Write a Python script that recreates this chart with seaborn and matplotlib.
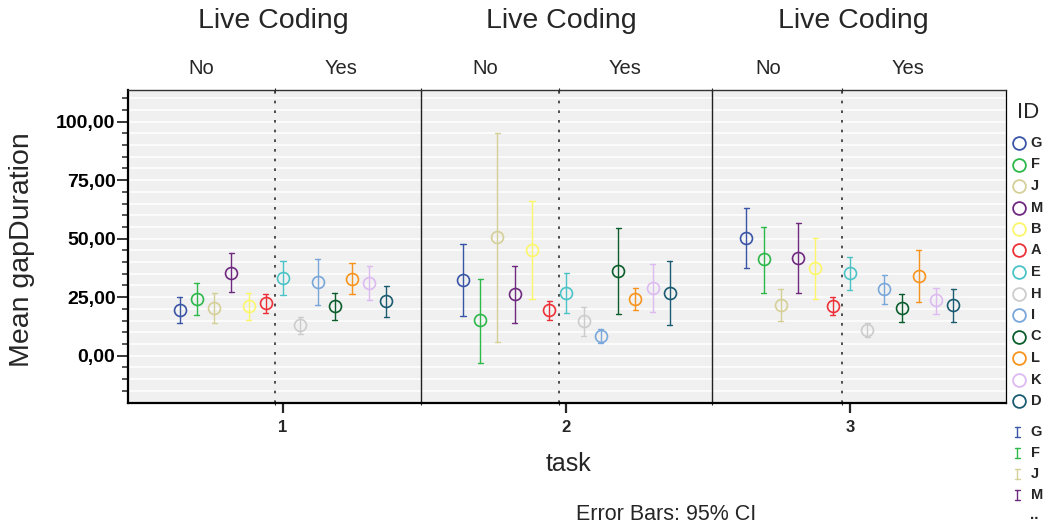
import numpy as np
import pandas as pd
import matplotlib
matplotlib.use("Agg")
import matplotlib.pyplot as plt
import matplotlib.transforms as mtransforms
from matplotlib.lines import Line2D
from matplotlib.ticker import FuncFormatter
import seaborn as sns

# ---- data -----------------------------------------------------------------
tasks = [1, 2, 3]
ids = ["G", "F", "J", "M", "B", "A", "E", "H", "I", "C", "L", "K", "D"]
live_coding_groups = ["No", "Yes"]
id_colors = ["#3B55A6", "#2DB84A", "#D5CF98", "#6F2A80", "#FBF66A", "#EE3138",
             "#4CC3C6", "#CCCCCC", "#7AA7DA", "#0B5E2C", "#F7941E", "#DDBAF0",
             "#1B5C72"]

# mean gapDuration per ID (order of ids) with 95% CI bounds
mean_task1 = [19.5, 24.2, 20.5, 35.5, 21.2, 22.4, 33.3, 13.0, 31.5, 21.1, 32.9, 31.2, 23.2]
low_task1 = [13.8, 17.4, 14.0, 27.2, 15.4, 18.4, 25.9, 9.3, 21.7, 15.3, 26.2, 23.9, 16.4]
high_task1 = [25.0, 31.1, 26.9, 44.0, 26.9, 26.2, 40.5, 16.7, 41.2, 26.7, 39.6, 38.5, 29.8]

mean_task2 = [32.4, 15.1, 50.7, 26.5, 45.3, 19.5, 26.9, 14.8, 8.4, 36.2, 24.2, 28.8, 26.9]
low_task2 = [17.0, -3.0, 5.9, 14.1, 24.4, 15.4, 18.2, 8.5, 5.3, 17.9, 19.4, 18.5, 13.1]
high_task2 = [47.7, 32.8, 95.3, 38.5, 66.1, 23.5, 35.5, 20.7, 11.4, 54.4, 28.9, 39.1, 40.6]

mean_task3 = [50.3, 41.2, 21.5, 41.6, 37.3, 21.4, 35.3, 11.1, 28.4, 20.2, 34.2, 23.7, 21.7]
low_task3 = [37.5, 26.9, 14.7, 26.7, 24.2, 17.5, 28.2, 8.1, 22.1, 14.3, 23.1, 17.9, 14.5]
high_task3 = [63.0, 55.1, 28.4, 56.7, 50.2, 25.1, 42.2, 14.0, 34.6, 26.4, 45.3, 29.1, 28.5]

y_major = [0, 25, 50, 75, 100]

# long table: each (task, ID) cell holds lower bound, mean and upper bound;
# the median gives the mean and the 100% interval spans the CI
rows = []
for task, means, lows, highs in zip(tasks,
                                    [mean_task1, mean_task2, mean_task3],
                                    [low_task1, low_task2, low_task3],
                                    [high_task1, high_task2, high_task3]):
    for pid, m, lo, hi in zip(ids, means, lows, highs):
        for v in (lo, m, hi):
            rows.append({"task": task, "ID": pid, "gapDuration": v})
df = pd.DataFrame(rows)

# ---- style ----------------------------------------------------------------
sns.set_style("ticks")
plt.rcParams["font.family"] = ["Liberation Sans", "DejaVu Sans"]

W, H = 1044, 531
fig = plt.figure(figsize=(W / 100, H / 100), dpi=100)
ax = fig.add_axes([128 / W, 1 - 403 / H, 878 / W, 313 / H])
ax.set_facecolor("#F0F0F0")

sns.pointplot(data=df, x="task", y="gapDuration", hue="ID",
              order=tasks, hue_order=ids, palette=id_colors,
              estimator="median", errorbar=("pi", 100),
              dodge=0.73, markers="o", linestyles="none",
              capsize=0.018, err_kws={"linewidth": 1.0},
              markersize=8.6, markeredgewidth=1.2,
              legend=False, ax=ax)

for ln in ax.lines:
    ln.set_markerfacecolor("none")
    ln.set_zorder(3)

ax.set_xlim(-0.547, 2.551)
ax.set_ylim(-20.2, 113.5)

# y axis
ax.set_yticks(y_major)
ax.set_yticks(np.arange(-15, 111, 5), minor=True)
ax.yaxis.set_major_formatter(FuncFormatter(lambda v, p: f"{v:.2f}".replace(".", ",")))
ax.tick_params(axis="y", which="major", length=8, width=1.1, pad=1,
               labelsize=14, colors="black")
ax.tick_params(axis="y", which="minor", length=4.3, width=1.1)
for lab in ax.get_yticklabels():
    lab.set_fontweight("bold")
ax.grid(axis="y", which="both", color="white", linewidth=1.1)
ax.set_axisbelow(True)

# x axis
ax.set_xticks(range(len(tasks)))
ax.set_xticklabels([str(t) for t in tasks], fontsize=12, fontweight="bold")
ax.tick_params(axis="x", which="major", length=7.5, width=1.6, pad=5)
divider_x = [0.486, 1.512]
split_x = [k - 0.027 for k in range(len(tasks))]
ax.set_xticks(split_x + divider_x, minor=True)
ax.tick_params(axis="x", which="minor", length=3, width=0.8,
               direction="inout", top=True)
ax.set_xlabel("")
ax.set_ylabel("")

for x in divider_x:
    ax.axvline(x, color="#222222", linewidth=1.0, zorder=2)
for x in split_x:
    ax.axvline(x, color="#333333", linewidth=1.2, linestyle=(0, (1.6, 4.2)), zorder=2)

for side in ("left", "bottom"):
    ax.spines[side].set_linewidth(1.6)
    ax.spines[side].set_color("black")
ax.spines["top"].set_linewidth(1.0)
ax.spines["top"].set_color("#333333")
ax.spines["right"].set_linewidth(0.9)
ax.spines["right"].set_color("black")
ax.spines["top"].set_visible(True)
ax.spines["right"].set_visible(True)

# panel headers
blend = mtransforms.blended_transform_factory(ax.transData, fig.transFigure)
header_x = [-0.036, 0.981, 2.011]
for k, hx in enumerate(header_x):
    ax.text(hx, 1 - 21 / H, "Live Coding", transform=blend, ha="center",
            va="center", fontsize=20.5)
    ax.text(k - 0.288, 1 - 68 / H, live_coding_groups[0], transform=blend,
            ha="center", va="center", fontsize=14.5)
    ax.text(k + 0.205, 1 - 68 / H, live_coding_groups[1], transform=blend,
            ha="center", va="center", fontsize=14.5)

# axis titles and footnote
fig.text(22 / W, 1 - 250 / H, "Mean gapDuration", rotation=90, ha="center",
         va="center", fontsize=20.5)
fig.text(568 / W, 1 - 464 / H, "task", ha="center", va="center", fontsize=18)
fig.text(666 / W, 1 - 515 / H, "Error Bars: 95% CI", ha="center", va="center",
         fontsize=15.5)

# legend: point markers
fig.text(1017 / W, 1 - 112 / H, "ID", ha="left", va="center", fontsize=16)
row_h = 21.5
for i, (pid, col) in enumerate(zip(ids, id_colors)):
    yy = 143 + i * row_h
    fig.add_artist(Line2D([1019 / W], [1 - yy / H], transform=fig.transFigure,
                          marker="o", markersize=9.2, markerfacecolor="none",
                          markeredgecolor=col, markeredgewidth=1.3,
                          linestyle="none"))
    fig.text(1030.5 / W, 1 - yy / H, pid, ha="left", va="center",
             fontsize=10.5, fontweight="bold")

# legend: error bar glyphs (first entries, then ellipsis)
for i, (pid, col) in enumerate(zip(ids[:4], id_colors[:4])):
    yy = 432 + i * 21
    xc = 1017
    fig.add_artist(Line2D([xc / W, xc / W], [1 - (yy - 5) / H, 1 - (yy + 5) / H],
                          transform=fig.transFigure, color=col, linewidth=1.0))
    for cap in (yy - 5, yy + 5):
        fig.add_artist(Line2D([(xc - 2.5) / W, (xc + 2.5) / W],
                              [1 - cap / H, 1 - cap / H],
                              transform=fig.transFigure, color=col, linewidth=1.0))
    fig.text(1030.5 / W, 1 - yy / H, pid, ha="left", va="center",
             fontsize=10.5, fontweight="bold")
fig.text(1030 / W, 1 - 515 / H, "..", ha="left", va="center",
         fontsize=11, fontweight="bold")

fig.savefig("out.png", dpi=100)
